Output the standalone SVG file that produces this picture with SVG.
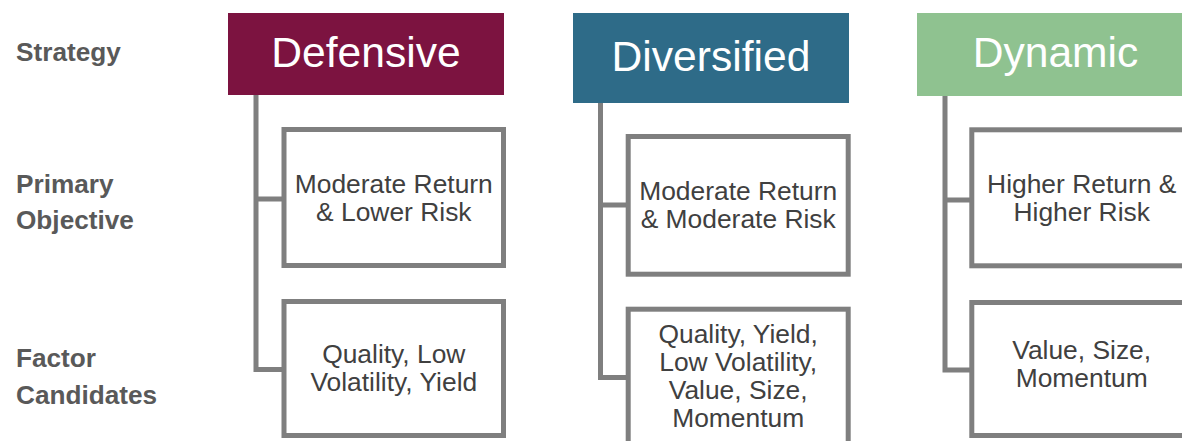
<svg xmlns="http://www.w3.org/2000/svg" width="1182" height="441" viewBox="0 0 1182 441">
<style>
.lbl{font-family:"Liberation Sans",Arial,sans-serif;font-weight:bold;font-size:26.2px;fill:#595959}
.hdr{font-family:"Liberation Sans",Arial,sans-serif;font-size:42.6px;fill:#ffffff;text-anchor:middle}
.box{fill:#ffffff;stroke:#7f7f7f;stroke-width:5}
.txt{font-family:"Liberation Sans",Arial,sans-serif;font-size:26.4px;fill:#404040;text-anchor:middle}
.con{fill:none;stroke:#7f7f7f;stroke-width:5;stroke-linejoin:miter}
</style>
<rect width="1182" height="441" fill="#ffffff"/>
<g id="row-labels">
<text class="lbl" x="16" y="61">Strategy</text>
<text class="lbl" x="16" y="193">Primary</text>
<text class="lbl" x="16" y="229">Objective</text>
<text class="lbl" x="16" y="367">Factor</text>
<text class="lbl" x="16" y="404">Candidates</text>
</g>
<g id="connectors">
<path class="con" d="M256,95 V369.5 H284 M256,199 H284"/>
<path class="con" d="M600.5,103 V377.5 H628 M600.5,205 H628"/>
<path class="con" d="M945,96 V370 H972 M945,200 H972"/>
</g>
<g id="defensive">
<rect x="228" y="13" width="276" height="82" fill="#7c1340"/>
<text class="hdr" x="366" y="67">Defensive</text>
</g>
<g id="defensive-objective">
<rect class="box" x="284" y="129.5" width="219.5" height="136"/>
<text class="txt" x="393.8" y="192.5">Moderate Return</text>
<text class="txt" x="393.8" y="220.5">&amp; Lower Risk</text>
</g>
<g id="defensive-factors">
<rect class="box" x="284" y="301.5" width="219.5" height="134"/>
<text class="txt" x="393.8" y="362.5">Quality, Low</text>
<text class="txt" x="393.8" y="390.5">Volatility, Yield</text>
</g>
<g id="diversified">
<rect x="573" y="13" width="276" height="90" fill="#2e6b88"/>
<text class="hdr" x="711" y="71">Diversified</text>
</g>
<g id="diversified-objective">
<rect class="box" x="628.2" y="136.5" width="220" height="137.7"/>
<text class="txt" x="738.2" y="199.5">Moderate Return</text>
<text class="txt" x="738.2" y="227.5">&amp; Moderate Risk</text>
</g>
<g id="diversified-factors">
<rect class="box" x="628.2" y="309.2" width="220" height="150"/>
<text class="txt" x="738.2" y="343">Quality, Yield,</text>
<text class="txt" x="738.2" y="371">Low Volatility,</text>
<text class="txt" x="738.2" y="399">Value, Size,</text>
<text class="txt" x="738.2" y="427">Momentum</text>
</g>
<g id="dynamic">
<rect x="917" y="13" width="277" height="83" fill="#8fc290"/>
<text class="hdr" x="1055.5" y="67">Dynamic</text>
</g>
<g id="dynamic-objective">
<rect class="box" x="971.8" y="129.8" width="220" height="136"/>
<text class="txt" x="1081.7" y="193">Higher Return &amp;</text>
<text class="txt" x="1081.7" y="221">Higher Risk</text>
</g>
<g id="dynamic-factors">
<rect class="box" x="971.8" y="302.5" width="220" height="133"/>
<text class="txt" x="1081.7" y="358.5">Value, Size,</text>
<text class="txt" x="1081.7" y="386.5">Momentum</text>
</g>
</svg>
